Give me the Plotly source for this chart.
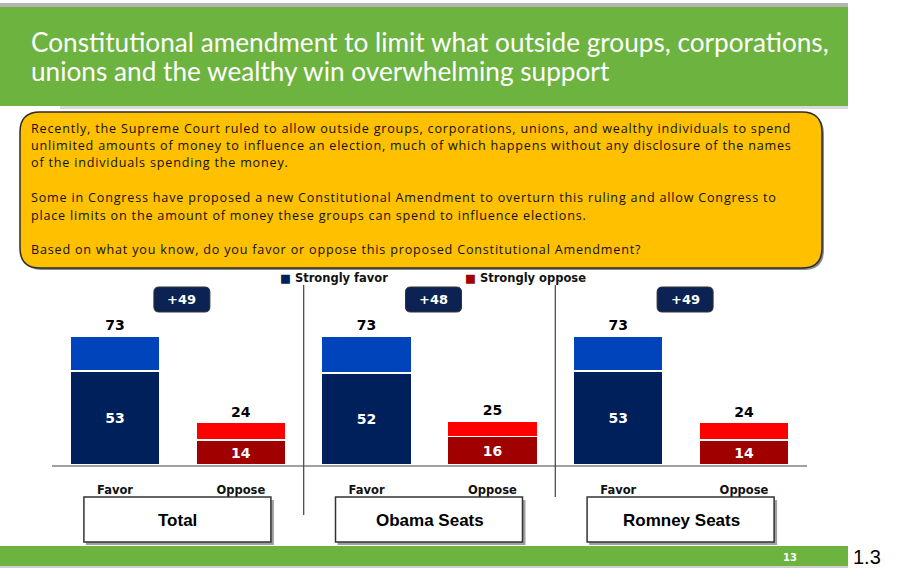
import plotly.graph_objects as go

# ---------------- data ----------------
groups = ["Total", "Obama Seats", "Romney Seats"]
answers = ["Favor", "Oppose"]
favor_total = [73, 73, 73]
favor_strong = [53, 52, 53]
oppose_total = [24, 25, 24]
oppose_strong = [14, 16, 14]
legend_labels = ["Strongly favor", "Strongly oppose"]
title_lines = [
    "Constitutional amendment to limit what outside groups, corporations,",
    "unions and the wealthy win overwhelming support",
]
question_lines = [
    "Recently, the Supreme Court ruled to allow outside groups, corporations, unions, and wealthy individuals to spend",
    "unlimited amounts of money to influence an election, much of which happens without any disclosure of the names",
    "of the individuals spending the money.",
    "",
    "Some in Congress have proposed a new Constitutional Amendment to overturn this ruling and allow Congress to",
    "place limits on the amount of money these groups can spend to influence elections.",
    "",
    "Based on what you know, do you favor or oppose this proposed Constitutional Amendment?",
]
page_number = "13"
side_note = "1.3"

# ---------------- styling ----------------
W, H = 898, 582
NAVY = "#00205B"
LIGHT_BLUE = "#0044BB"
DARK_RED = "#A00000"
RED = "#FF0000"
GREEN = "#6DB33F"
ORANGE = "#FFC000"
BADGE = "#0B2252"


def px(x):
    return x / W


def py(y):
    return 1 - y / H


def rounded_rect(x0, y0, x1, y1, r):
    # pixel coords -> paper path
    pts = [
        f"M {px(x0 + r)},{py(y0)}",
        f"L {px(x1 - r)},{py(y0)}",
        f"Q {px(x1)},{py(y0)} {px(x1)},{py(y0 + r)}",
        f"L {px(x1)},{py(y1 - r)}",
        f"Q {px(x1)},{py(y1)} {px(x1 - r)},{py(y1)}",
        f"L {px(x0 + r)},{py(y1)}",
        f"Q {px(x0)},{py(y1)} {px(x0)},{py(y1 - r)}",
        f"L {px(x0)},{py(y0 + r)}",
        f"Q {px(x0)},{py(y0)} {px(x0 + r)},{py(y0)}",
        "Z",
    ]
    return " ".join(pts)


n = len(groups)
favor_x = [2 * i for i in range(n)]
oppose_x = [2 * i + 1 for i in range(n)]
favor_rest = [t - s for t, s in zip(favor_total, favor_strong)]
oppose_rest = [t - s for t, s in zip(oppose_total, oppose_strong)]
BW = 0.715

inside_font = dict(family="DejaVu Sans", size=14, color="white", weight="bold")
outside_font = dict(family="DejaVu Sans", size=14, color="black", weight="bold")
line_w = dict(color="white", width=1.5)

fig = go.Figure()
fig.add_bar(x=favor_x, y=favor_strong, width=BW, marker=dict(color=NAVY, line=line_w),
            text=favor_strong, textposition="inside", insidetextanchor="middle",
            insidetextfont=inside_font, name=legend_labels[0], showlegend=False)
fig.add_bar(x=favor_x, y=favor_rest, width=BW, marker=dict(color=LIGHT_BLUE, line=line_w),
            customdata=favor_total, texttemplate="%{customdata}", textposition="outside",
            outsidetextfont=outside_font, showlegend=False)
fig.add_bar(x=oppose_x, y=oppose_strong, width=BW, marker=dict(color=DARK_RED, line=line_w),
            text=oppose_strong, textposition="inside", insidetextanchor="middle",
            insidetextfont=inside_font, name=legend_labels[1], showlegend=False)
fig.add_bar(x=oppose_x, y=oppose_rest, width=BW, marker=dict(color=RED, line=line_w),
            customdata=oppose_total, texttemplate="%{customdata}", textposition="outside",
            outsidetextfont=outside_font, showlegend=False)

shapes = []
annotations = []

# header band
shapes.append(dict(type="rect", xref="paper", yref="paper", x0=0, x1=px(848), y0=py(7), y1=py(3),
                   fillcolor="#B4B4B4", line_width=0, layer="below"))
shapes.append(dict(type="rect", xref="paper", yref="paper", x0=0, x1=px(848), y0=py(106), y1=py(7),
                   fillcolor=GREEN, line_width=0, layer="below"))
shapes.append(dict(type="rect", xref="paper", yref="paper", x0=px(60), x1=px(848), y0=py(109), y1=py(106),
                   fillcolor="#D9D9D9", line_width=0, layer="below"))
for i, t in enumerate(title_lines):
    annotations.append(dict(xref="paper", yref="paper", x=px(29), y=py(42 + 29 * i), text=t,
                            showarrow=False, xanchor="left", yanchor="middle",
                            font=dict(family="Lato", size=26.2, color="white")))

# question box
shapes.append(dict(type="path", xref="paper", yref="paper", path=rounded_rect(22, 114, 824, 270, 20),
                   fillcolor="#8A8A8A", line_width=0, layer="below"))
shapes.append(dict(type="path", xref="paper", yref="paper", path=rounded_rect(20, 112, 822, 268, 20),
                   fillcolor=ORANGE, line=dict(color="#2B2B2B", width=1.5), layer="below"))
for i, t in enumerate(question_lines):
    if not t:
        continue
    annotations.append(dict(xref="paper", yref="paper", x=px(29), y=py(128 + 17.4 * i),
                            text=f"<span style='letter-spacing:0.8px'>{t}</span>",
                            showarrow=False, xanchor="left", yanchor="middle",
                            font=dict(family="Open Sans", size=12.6, color="#111111")))

# legend
for lx, lab, col in [(278, legend_labels[0], NAVY), (463, legend_labels[1], DARK_RED)]:
    annotations.append(dict(xref="paper", yref="paper", x=px(lx), y=py(278),
                            text=f"<span style='color:{col}'>■</span> {lab}",
                            showarrow=False, xanchor="left", yanchor="middle",
                            font=dict(family="DejaVu Sans", size=11.5, color="#111", weight="bold")))

# divider lines
shapes.append(dict(type="line", xref="x", yref="paper", x0=1.5, x1=1.5, y0=py(515), y1=py(285),
                   line=dict(color="#404040", width=1.2)))
shapes.append(dict(type="line", xref="x", yref="paper", x0=3.5, x1=3.5, y0=py(497), y1=py(285),
                   line=dict(color="#404040", width=1.2)))

# lead badges and group boxes
for i, g in enumerate(groups):
    c = 2 * i + 0.5
    lead = favor_total[i] - oppose_total[i]
    cpx = 52.1 + (c + 0.5) * 125.8 + 4
    shapes.append(dict(type="path", xref="paper", yref="paper",
                       path=rounded_rect(cpx - 28, 287, cpx + 28, 312, 5),
                       fillcolor=BADGE, line=dict(color="#333", width=1)))
    annotations.append(dict(xref="paper", yref="paper", x=px(cpx), y=py(299.5), text=f"+{lead}",
                            showarrow=False, xanchor="center", yanchor="middle",
                            font=dict(family="DejaVu Sans", size=13, color="white", weight="bold")))
    bpx = 52.1 + (c + 0.5) * 125.8
    shapes.append(dict(type="rect", xref="paper", yref="paper", x0=px(bpx - 92), x1=px(bpx + 96),
                       y0=py(545), y1=py(500), fillcolor="#A0A0A0", line_width=0))
    shapes.append(dict(type="rect", xref="paper", yref="paper", x0=px(bpx - 94), x1=px(bpx + 93),
                       y0=py(542), y1=py(497), fillcolor="white", line=dict(color="#333", width=1.5)))
    annotations.append(dict(xref="paper", yref="paper", x=px(bpx), y=py(520), text=g,
                            showarrow=False, xanchor="center", yanchor="middle",
                            font=dict(family="Liberation Sans", size=17, color="black", weight="bold")))

# bottom band
shapes.append(dict(type="rect", xref="paper", yref="paper", x0=0, x1=px(848), y0=py(566), y1=py(546),
                   fillcolor=GREEN, line_width=0, layer="below"))
shapes.append(dict(type="rect", xref="paper", yref="paper", x0=0, x1=px(848), y0=py(568), y1=py(566),
                   fillcolor="#D0D0D0", line_width=0, layer="below"))
annotations.append(dict(xref="paper", yref="paper", x=px(790), y=py(557), text=page_number,
                        showarrow=False, xanchor="center", yanchor="middle",
                        font=dict(family="DejaVu Sans", size=10, color="white", weight="bold")))
annotations.append(dict(xref="paper", yref="paper", x=px(851), y=py(557), text=side_note,
                        showarrow=False, xanchor="left", yanchor="middle",
                        font=dict(family="Liberation Sans", size=20, color="black")))

fig.update_layout(
    width=W, height=H, margin=dict(l=0, r=0, t=0, b=0),
    paper_bgcolor="white", plot_bgcolor="white",
    barmode="stack", showlegend=False,
    shapes=shapes, annotations=annotations,
    xaxis=dict(domain=[px(52.1), px(806.9)], range=[-0.5, 5.5],
               tickvals=favor_x + oppose_x, ticktext=[answers[0]] * n + [answers[1]] * n,
               ticks="outside", ticklen=13, tickcolor="rgba(0,0,0,0)",
               tickfont=dict(family="DejaVu Sans", size=11.5, color="#111", weight="bold"),
               showline=True, linecolor="#A0A0A0", linewidth=1.5, showgrid=False, zeroline=False,
               fixedrange=True),
    yaxis=dict(domain=[py(465), py(275)], range=[0, (465 - 275) / 1.77], visible=False,
               fixedrange=True),
)

fig.write_html("out.html", config={"displayModeBar": False},
               post_script="document.body.style.margin='0';")
